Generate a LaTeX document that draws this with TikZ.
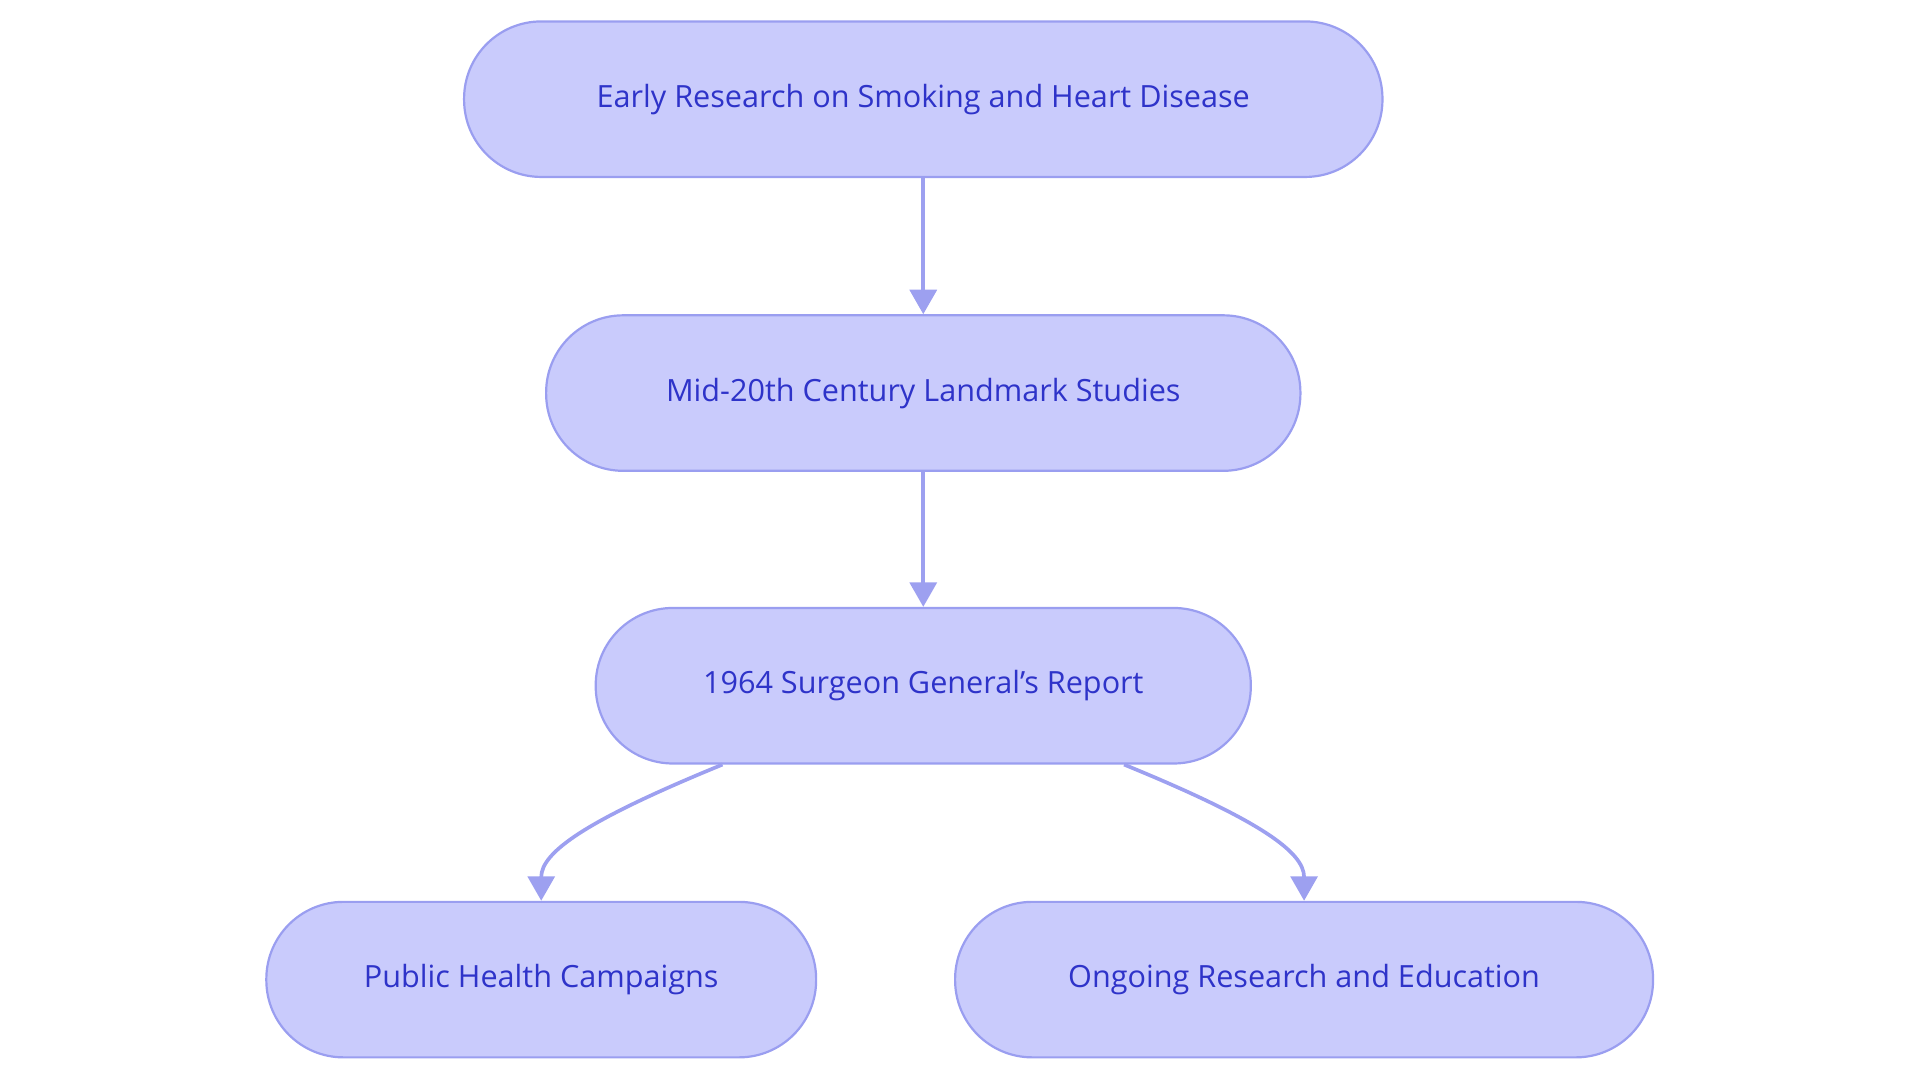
\documentclass[tikz,border=0pt]{standalone}
\usepackage{fontspec}
\setmainfont{Open Sans}
\usetikzlibrary{arrows.meta}
\definecolor{nfill}{HTML}{C9CBFC}
\definecolor{ndraw}{HTML}{9A9EF0}
\definecolor{ntext}{HTML}{2E33C9}
\definecolor{edge}{HTML}{9DA0F0}
\tikzset{
  box/.style={draw=ndraw, fill=nfill, line width=1.8pt, rounded corners=63pt, minimum height=127pt, inner sep=0pt, text=ntext, font=\fontsize{25}{30}\selectfont},
  conn/.style={draw=edge, line width=3pt, -{Triangle[length=20pt,width=22pt]}}
}
\begin{document}
\begin{tikzpicture}[x=1pt,y=-1pt]
\useasboundingbox (0,0) rectangle (1568,884.4);
\node[box, minimum width=750pt] (a) at (754,81) {Early Research on Smoking and Heart Disease};
\node[box, minimum width=616pt] (b) at (754,321) {Mid-20th Century Landmark Studies};
\node[box, minimum width=535pt] (c) at (754,560) {1964 Surgeon General’s Report};
\node[box, minimum width=449pt] (d) at (442,800) {Public Health Campaigns};
\node[box, minimum width=570pt] (e) at (1065,800) {Ongoing Research and Education};
\draw[conn] (a) -- (b);
\draw[conn] (b) -- (c);
\draw[conn] (c.south) ++(-164,0) .. controls +(-110,45) and +(0,-40) .. (d.north);
\draw[conn] (c.south) ++(164,0) .. controls +(110,45) and +(0,-40) .. (e.north);
\end{tikzpicture}
\end{document}
